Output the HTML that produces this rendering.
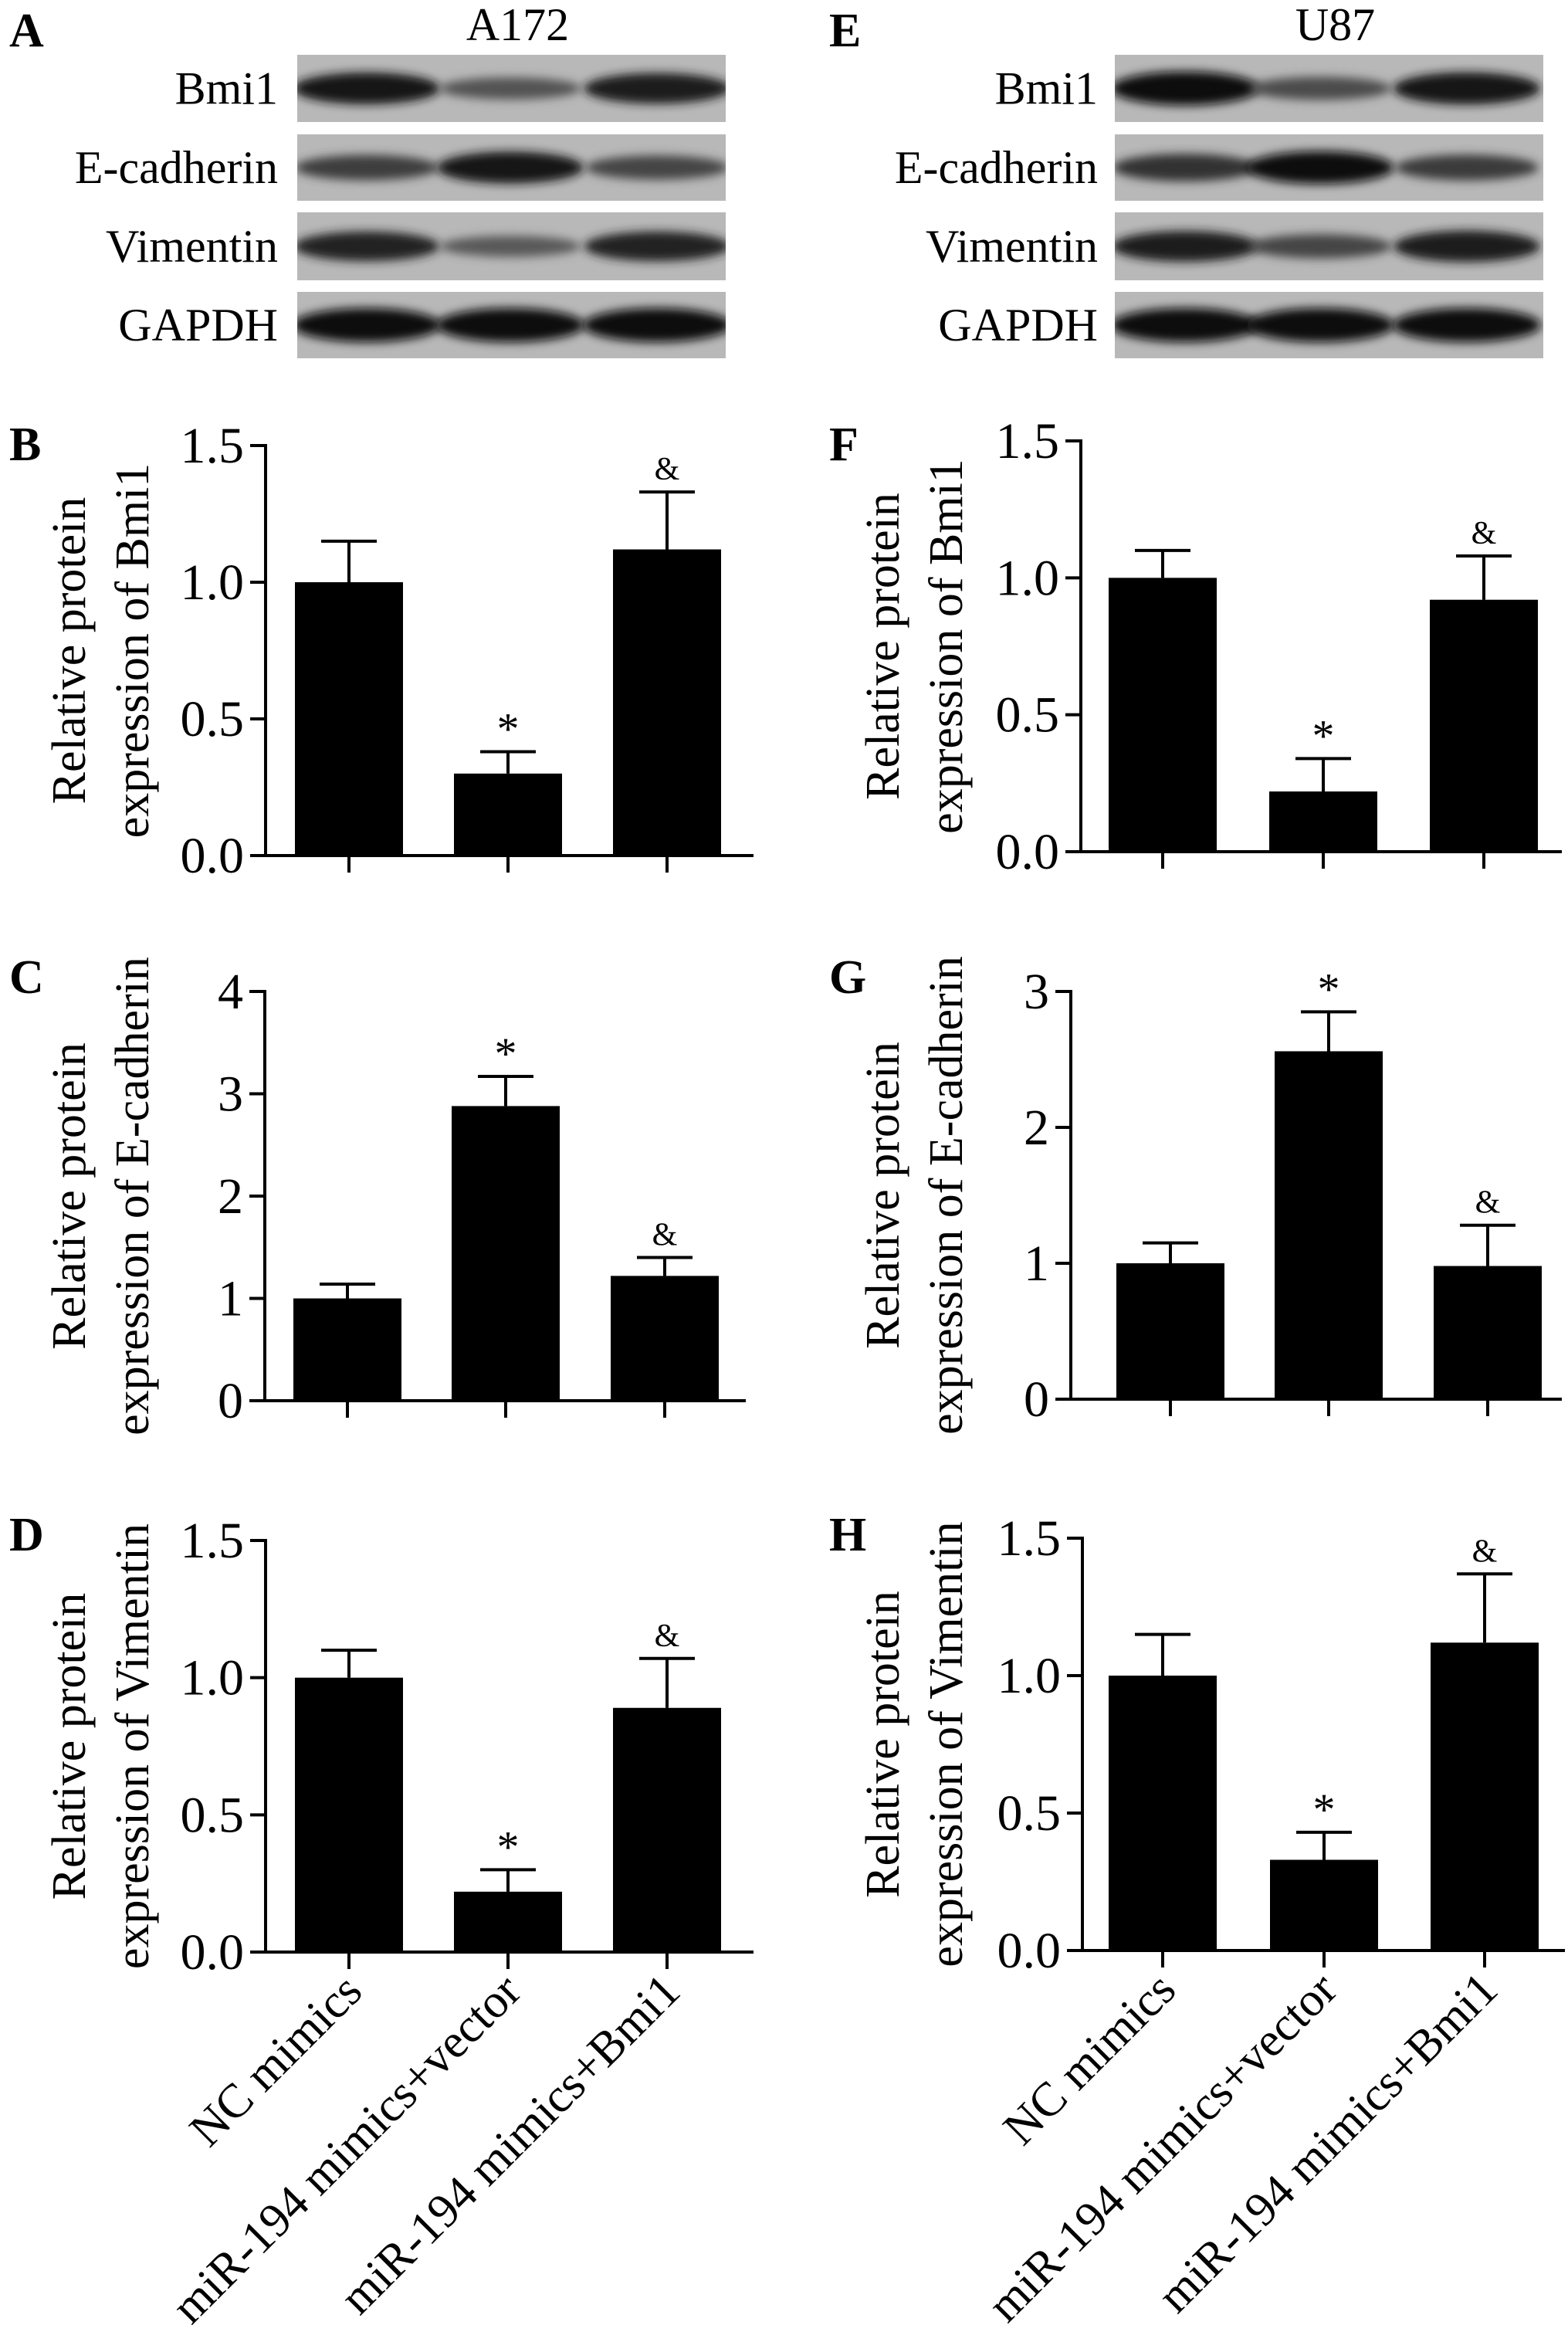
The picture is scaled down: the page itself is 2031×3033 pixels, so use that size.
<!DOCTYPE html>
<html><head><meta charset="utf-8"><style>
html,body{margin:0;padding:0;background:#fff;}
svg{display:block;font-family:"Liberation Serif",serif;}
</style></head><body>
<svg id="fig" width="2031" height="3033" viewBox="0 0 2031 3033" xmlns="http://www.w3.org/2000/svg">
<defs>
<filter id="blur" x="-20%" y="-50%" width="140%" height="200%"><feGaussianBlur stdDeviation="6"/></filter>
<clipPath id="clipL"><rect x="385" y="60" width="555" height="420"/></clipPath>
<clipPath id="clipR"><rect x="1444" y="60" width="555" height="420"/></clipPath>
</defs>
</svg>
<script>
const NS="http://www.w3.org/2000/svg";
const svg=document.getElementById('fig');

const categories=["NC mimics","miR-194 mimics+vector","miR-194 mimics+Bmi1"];
const blotRows=["Bmi1","E-cadherin","Vimentin","GAPDH"];
const a172Intensity=[[0.9,0.45,0.85],[0.6,0.9,0.55],[0.8,0.4,0.8],[1,1,1]];
const u87Intensity=[[1,0.5,0.92],[0.7,0.95,0.62],[0.85,0.55,0.88],[1,1,1]];

const bValues=[1.0,0.30,1.12]; const bErr=[0.15,0.08,0.21];
const cValues=[1.0,2.88,1.22]; const cErr=[0.14,0.29,0.18];
const dValues=[1.0,0.22,0.89]; const dErr=[0.10,0.08,0.18];
const fValues=[1.0,0.22,0.92]; const fErr=[0.10,0.12,0.16];
const gValues=[1.0,2.56,0.98]; const gErr=[0.15,0.29,0.30];
const hValues=[1.0,0.33,1.12]; const hErr=[0.15,0.10,0.25];
const ticks15=["0.0","0.5","1.0","1.5"];
const ticksC=["0","1","2","3","4"];
const ticksG=["0","1","2","3"];
const marks=["","*","&"];

function el(tag,attrs,parent){const e=document.createElementNS(NS,tag);for(const k in attrs)e.setAttribute(k,attrs[k]);(parent||svg).appendChild(e);return e;}
function txt(s,attrs,parent){const e=el('text',attrs,parent);e.textContent=s;return e;}

const letters=[["A",12,60],["E",1074,60],["B",12,596],["F",1074,596],["C",12,1286],["G",1074,1286],["D",12,2008],["H",1074,2008]];
letters.forEach(l=>{const t=txt(l[0],{x:l[1],y:l[2],'font-size':62,'font-weight':'bold'});

});

function blot(name,title,x0,x1,labelX,lanes,inten,clip){
  const g=el('g',{});
  
  
  const t=txt(title,{x:(x0+x1)/2+8,y:52,'font-size':60,'text-anchor':'middle'},g);
  
  
  const rows=[[71,158],[174,260],[275,363],[378,464]];
  rows.forEach((r,i)=>{
    const rg=el('g',{},g);
    
    
    el('rect',{x:x0,y:r[0],width:x1-x0,height:r[1]-r[0],fill:'#b8b8b8'},rg);
    const bg=el('g',{'clip-path':'url(#'+clip+')'},rg);
    const cy=(r[0]+r[1])/2;
    lanes.forEach((cx,j)=>{
      const v=inten[i][j];
      const c=Math.round(140-130*v);
      const band=el('ellipse',{cx:cx,cy:cy,rx:88+8*v,ry:8+14*v,fill:'rgb('+c+','+c+','+c+')',filter:'url(#blur)'},bg);
      
      
    });
    const lb=txt(blotRows[i],{x:labelX,y:cy+20,'font-size':60,'text-anchor':'end'},rg);
    
    
  });
}
blot('blot-a172','A172',385,940,360,[475,661,851],a172Intensity,'clipL');
blot('blot-u87','U87',1444,1999,1422,[1535,1710,1900],u87Intensity,'clipR');

function chart(name,o){
  const g=el('g',{});
  
  
  const y=v=>o.y0+(o.y1-o.y0)*(v/o.max);
  o.values.forEach((v,i)=>{
    const cx=o.ticks[i];
    const b=el('rect',{x:cx-70,y:y(v),width:140,height:o.y0-y(v),fill:'#000'},g);
    
    
    const top=y(v+o.err[i]);
    const eb=el('path',{d:'M'+cx+' '+y(v)+'V'+top+'M'+(cx-36)+' '+top+'H'+(cx+36),stroke:'#000','stroke-width':4,fill:'none'},g);
    
    
    if(marks[i]){
      const m=txt(marks[i],{x:cx,y:marks[i]=="*"?top-10:top-16,'font-size':marks[i]=="*"?58:42,'text-anchor':'middle'},g);
      
      
    }
  });
  const ax=el('path',{d:'M'+o.ax+' '+(o.y1-2)+'V'+o.y0+'H'+o.axEnd,stroke:'#000','stroke-width':4,fill:'none'},g);
  
  
  o.labels.forEach((lab,i)=>{
    const v=o.max*i/(o.labels.length-1);
    const yy=y(v);
    el('line',{x1:o.ax-20,x2:o.ax,y1:yy,y2:yy,stroke:'#000','stroke-width':4},g);
    const t=txt(lab,{x:o.ax-28,y:yy+22,'font-size':66,'text-anchor':'end'},g);
    
    
  });
  o.ticks.forEach(tx=>{el('line',{x1:tx,x2:tx,y1:o.y0,y2:o.y0+22,stroke:'#000','stroke-width':4},g);});
  const cy=(o.y0+o.y1)/2;
  const yt=txt('',{transform:'translate('+o.tx+','+cy+') rotate(-90)','font-size':62,'text-anchor':'middle'},g);
  
  
  const s1=el('tspan',{x:0,y:0},yt);s1.textContent='Relative protein';
  const s2=el('tspan',{x:0,y:82},yt);s2.textContent='expression of '+o.prot;
  if(o.xlabels){
    categories.forEach((c,i)=>{
      const lx=o.ticks[i]+20, ly=o.y0+54;
      const t=txt(c,{transform:'translate('+lx+','+ly+') rotate(-45)','font-size':62,'text-anchor':'end'},g);
      
      
    });
  }
}
const LT=[452,658,864], RT=[1506,1714,1922];
chart('chart-b',{values:bValues,err:bErr,max:1.5,labels:ticks15,y0:1108,y1:577,ax:344,axEnd:976,ticks:LT,tx:110,prot:'Bmi1'});
chart('chart-c',{values:cValues,err:cErr,max:4,labels:ticksC,y0:1814,y1:1284,ax:343,axEnd:966,ticks:[450,655,861],tx:110,prot:'E-cadherin'});
chart('chart-d',{values:dValues,err:dErr,max:1.5,labels:ticks15,y0:2528,y1:1995,ax:344,axEnd:976,ticks:LT,tx:110,prot:'Vimentin',xlabels:true});
chart('chart-f',{values:fValues,err:fErr,max:1.5,labels:ticks15,y0:1103,y1:571,ax:1400,axEnd:2023,ticks:RT,tx:1164,prot:'Bmi1'});
chart('chart-g',{values:gValues,err:gErr,max:3,labels:ticksG,y0:1812,y1:1284,ax:1387,axEnd:2023,ticks:[1516,1721,1927],tx:1164,prot:'E-cadherin'});
chart('chart-h',{values:hValues,err:hErr,max:1.5,labels:ticks15,y0:2526,y1:1992,ax:1402,axEnd:2027,ticks:[1506,1715,1923],tx:1164,prot:'Vimentin',xlabels:true});
</script>
</body></html>
